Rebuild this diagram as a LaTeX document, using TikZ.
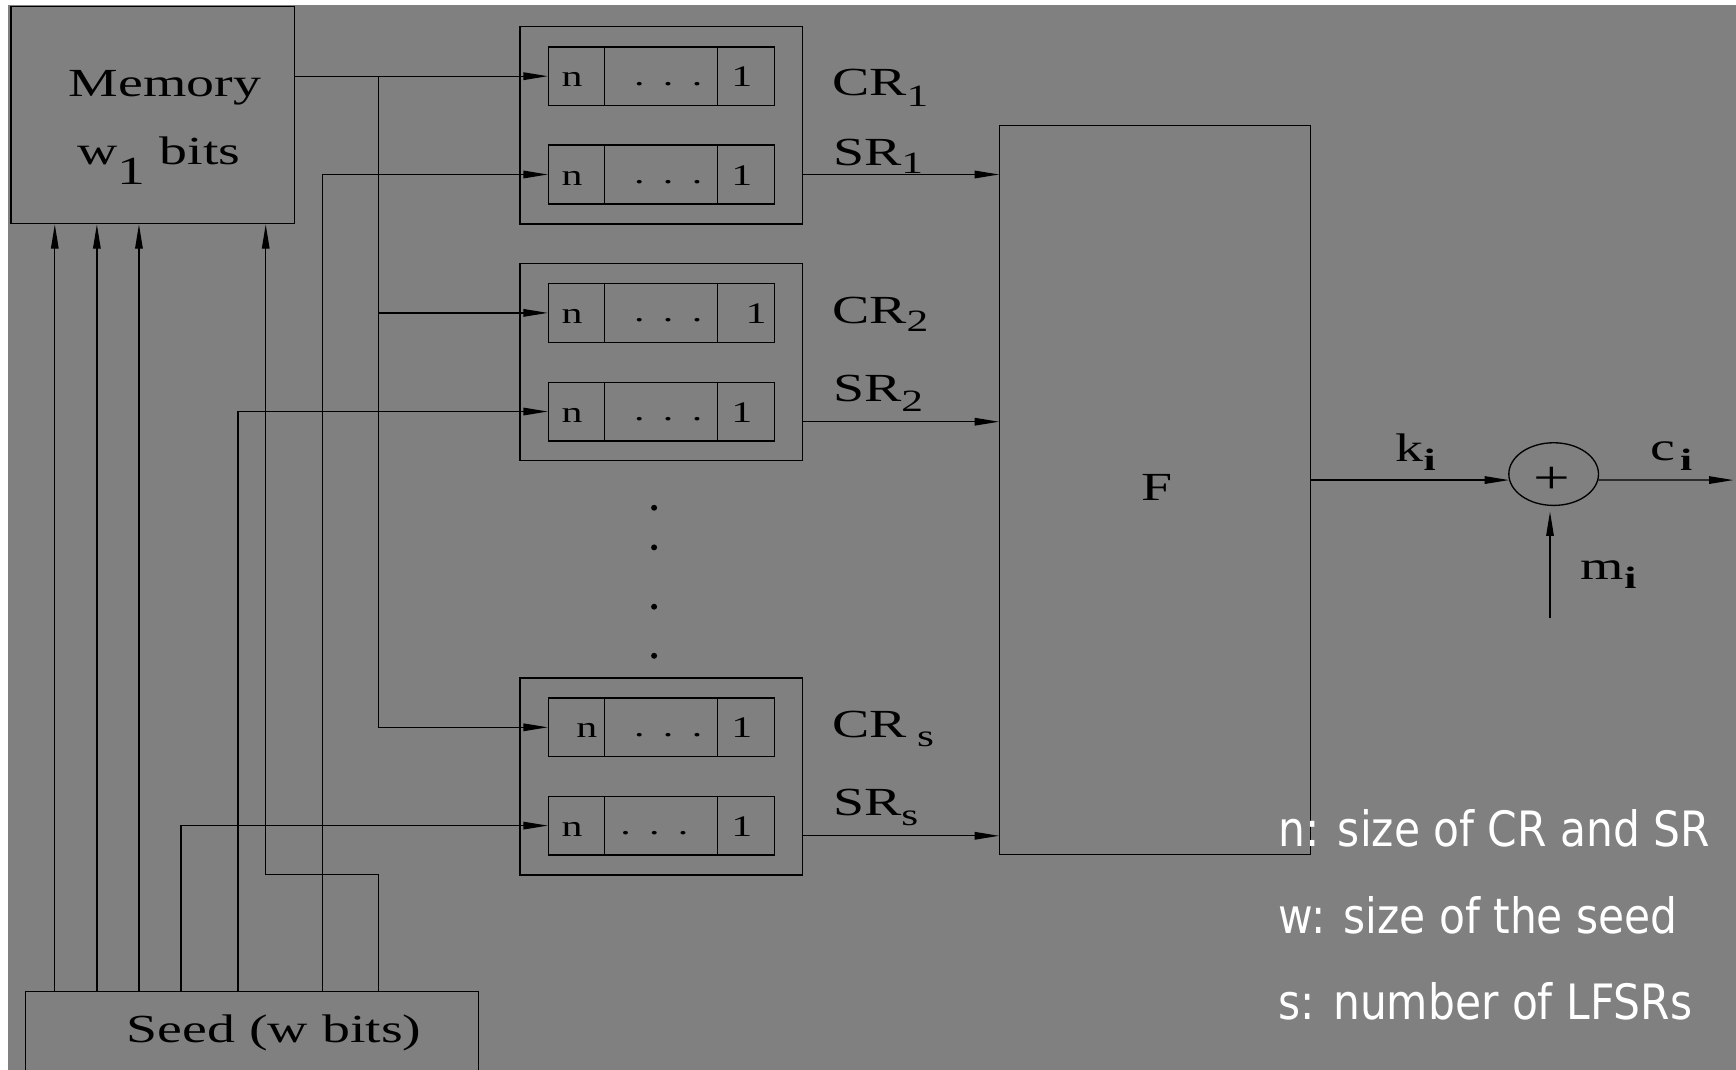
\documentclass[tikz,border=0pt]{standalone}
\usepackage{fontspec}
\setmainfont{Liberation Serif}[FakeStretch=1.4]
\newfontfamily\legendfont{DejaVu Sans}[FakeStretch=0.87]
\usetikzlibrary{arrows.meta,calc,shapes.geometric}
\definecolor{bg}{RGB}{128,128,128}
\newcommand\bigf{\fontsize{18pt}{20pt}\selectfont}
\newcommand\regf{\fontsize{13.5pt}{15pt}\selectfont}
\newcommand\subf{\fontsize{14pt}{14pt}\selectfont}
\newcommand\lsub[2][4.5pt]{\raisebox{-#1}{\subf #2}}
% register: name, y centre, x of n, x of dots, x of 1
\newcommand\lfsr[5]{%
  \node[reg] (#1) at (597.4,#2) {};
  \draw ($(#1.north west)+(51,0)$) -- ($(#1.south west)+(51,0)$);
  \draw ($(#1.north west)+(153,0)$) -- ($(#1.south west)+(153,0)$);
  \node[regtxt] (#1n) at (#3,{#2+9.5}) {n};
  \node[regtxt] (#1d) at (#4,{#2+8}) {.\hspace{8.3pt}.\hspace{8.3pt}.};
  \node[regtxt] (#1o) at (#5,{#2+9.5}) {1};
}
\begin{document}
\begin{tikzpicture}[x=0.5pt,y=-0.5pt, line width=0.6pt,
  arr/.style={-{Triangle[length=11pt,width=3.4pt]}},
  box/.style={draw, rectangle, inner sep=0pt},
  reg/.style={box, minimum width=102pt, minimum height=26.5pt},
  grp/.style={box, minimum width=127.5pt, minimum height=89pt},
  txt/.style={inner sep=0pt, font=\bigf},
  regtxt/.style={inner sep=0pt, font=\regf, anchor=base},
  legend/.style={inner sep=0pt, anchor=base west, text=white, font={\legendfont\fontsize{22pt}{24pt}\selectfont}},
  dotn/.style={circle, fill=black, inner sep=0pt, minimum size=2.7pt}]
\useasboundingbox (0,0) rectangle (1568,966);
\fill[white] (0,0) rectangle (1568,966);
\fill[bg] (7,4.5) rectangle (1568,966);

% memory
\node[box, minimum width=128pt, minimum height=98pt] (mem) at (138,104) {};
\node[txt, anchor=base] (memt1) at (149,87.3) {Memory};
\node[txt, anchor=base] (memt2) at (143.5,149) {w\raisebox{-9pt}{1}\ bits};

% seed
\node[minimum width=204pt, minimum height=35pt, inner sep=0pt] (seed) at (227.45,931) {};
\draw (seed.south west) -- (seed.north west) -- (seed.north east) -- (seed.south east);
\node[txt, anchor=base west] (seedt) at (114,941.5) {Seed (w bits)};

% groups
\node[grp] (g1) at (597.3,113.2) {};
\node[grp] (g2) at (597.3,327.1) {};
\node[grp] (g3) at (597.3,701.3) {};
\lfsr{cr1}{68.8}{516.7}{603.5}{670}
\lfsr{sr1}{157.6}{516.7}{603.5}{670}
\lfsr{cr2}{282.6}{516.7}{603.5}{683}
\lfsr{sr2}{371.7}{516.7}{603.5}{670}
\lfsr{cr3}{656.9}{530}{603.5}{670}
\lfsr{sr3}{745.7}{516.7}{591}{670}

% register labels
\node[txt, anchor=base west] (cr1l) at (751,86.4) {CR\lsub[5pt]{1}};
\node[txt, anchor=base west] (sr1l) at (752,149.7) {SR\lsub[3.5pt]{1}};
\node[txt, anchor=base west] (cr2l) at (751,292) {CR\lsub[3.8pt]{2}};
\node[txt, anchor=base west] (sr2l) at (752,362.8) {SR\lsub[4.5pt]{2}};
\node[txt, anchor=base west] (cr3l) at (751,666) {CR\hspace{4.75pt}\lsub[4.25pt]{s}};
\node[txt, anchor=base west] (sr3l) at (752,736.8) {SR\lsub[4.5pt]{s}};

% vertical dots
\node[dotn] (v1) at (590.8,458.6) {};
\node[dotn] (v2) at (590.8,494.4) {};
\node[dotn] (v3) at (590.8,548) {};
\node[dotn] (v4) at (590.8,592.3) {};

% F
\node[box, minimum width=140.2pt, minimum height=329.25pt] (F) at (1043.2,442.75) {};
\node[txt, anchor=base] (Ft) at (1045,451.7) {F};

% xor
\node[draw, ellipse, minimum width=40.5pt, minimum height=28.3pt, inner sep=0pt] (xor) at (1403.3,428.2) {};
\node[inner sep=0pt, font=\fontsize{21pt}{22pt}\selectfont] (plus) at (1401.7,433.6) {+};
\coordinate (cout) at (1565.6,433.6);
\coordinate (min) at (1400,558.5);

% coordinates on top of seed
\coordinate (s1) at (49.5,896);
\coordinate (s2) at (87.5,896);
\coordinate (s3) at (125.5,896);
\coordinate (s4) at (163.5,896);
\coordinate (s5) at (215,896);
\coordinate (s6) at (291.5,896);
\coordinate (s7) at (342,896);
\coordinate (bend) at (240,790);
\coordinate (bus) at (342,68.8);

% connectors
\draw[arr] (s1) -- (s1 |- mem.south);
\draw[arr] (s2) -- (s2 |- mem.south);
\draw[arr] (s3) -- (s3 |- mem.south);
\draw[arr] (s7) |- (bend) -- (bend |- mem.south);
\draw[arr] (s4) |- (sr3.west);
\draw[arr] (s5) |- (sr2.west);
\draw[arr] (s6) |- (sr1.west);
\draw[arr] (mem.east |- cr1.west) -- (cr1.west);
\draw[arr] (bus) |- (cr2.west);
\draw[arr] (bus) |- (cr3.west);

\draw[arr] (g1.east |- sr1.east) -- (F.west |- sr1.east);
\draw[arr] ($(g2.east |- sr2.east)+(0,9.2)$) -- ($(F.west |- sr2.east)+(0,9.2)$);
\draw[arr] ($(g3.east |- sr3.east)+(0,9.2)$) -- ($(F.west |- sr3.east)+(0,9.2)$);

\draw[arr] ($(F.east |- xor.west)+(0,5.4)$) -- ($(xor.west)+(0.8,5.4)$);
\draw[arr] ($(xor.east)+(-0.8,5.4)$) -- (cout);
\draw[arr] (min) -- ($(min |- xor.south)+(0,5)$);

% signal labels
\node[txt, anchor=base west] (kl) at (1260,417) {k\lsub[4pt]{\textbf{i}}};
\node[txt, anchor=base west] (cl) at (1490.6,415.5) {c\hspace{2pt}\lsub[4.75pt]{\textbf{i}}};
\node[txt, anchor=base west] (ml) at (1427.3,523) {m\lsub[4.25pt]{\textbf{i}}};

% legend
\node[legend] (lg1) at (1154.5,765) {n: size of CR and SR};
\node[legend] (lg2) at (1154.5,843) {w: size of the seed};
\node[legend] (lg3) at (1154.5,921) {s: number of LFSRs};
\end{tikzpicture}
\end{document}
